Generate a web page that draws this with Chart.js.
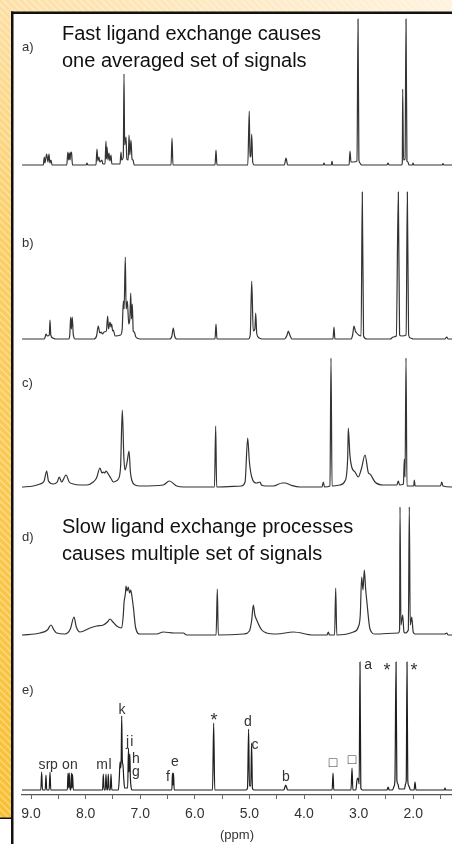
<!DOCTYPE html>
<html>
<head>
<meta charset="utf-8">
<script src="https://cdn.jsdelivr.net/npm/chart.js@4.4.1/dist/chart.umd.min.js"></script>
<style>
  html, body { margin: 0; padding: 0; background: #fff; }
  canvas { display: block; }
</style>
</head>
<body>
<canvas id="nmrChart" width="452" height="844"></canvas>
<script>
// [ppm, intensity]
const specA = [
  [9.165,0],[8.775,0],[8.757,8],[8.745,2],[8.713,11],[8.69,3],[8.671,11],[8.655,2],[8.634,5],[8.615,0],
  [8.345,0],[8.325,13],[8.31,5],[8.298,12],[8.285,5],[8.272,13],[8.258,12],[8.24,0],
  [7.99,0],[7.975,2],[7.96,0],
  [7.81,0],[7.792,16],[7.775,4],[7.755,8],[7.74,3],[7.718,4],[7.70,5],[7.685,1],
  [7.645,1],[7.627,24],[7.618,6],[7.608,18],[7.59,5],[7.572,12],[7.555,4],[7.535,10],[7.52,1],
  [7.37,1],[7.352,13],[7.34,5],[7.31,8],[7.297,91],[7.285,20],[7.26,28],[7.245,6],
  [7.22,5],[7.205,30],[7.19,10],[7.169,25],[7.15,6],[7.132,5],[7.11,0],
  [6.435,0],[6.418,27],[6.40,0],
  [5.63,0],[5.612,15],[5.595,0],
  [5.03,0],[5.003,54],[4.99,8],[4.975,9],[4.958,31],[4.94,3],[4.91,0],
  [4.36,0],[4.33,7],[4.30,0],
  [3.65,0],[3.634,2],[3.62,0],
  [3.50,0],[3.488,4],[3.475,0],
  [3.175,0],[3.158,14],[3.14,3],[3.10,3],[3.03,4],[3.011,146],[2.995,5],[2.975,2],[2.95,0],
  [2.48,0],[2.462,2],[2.44,0],
  [2.21,0],[2.20,3],[2.193,76],[2.178,5],[2.15,6],[2.132,146],[2.115,4],[2.095,3],[2.08,0],
  [2.015,0],[2.004,2],[1.99,0],
  [1.47,0],[1.455,1.5],[1.44,0],[1.29,0]
];
const specB = [
  [9.165,0],[8.76,0],[8.74,2],[8.726,5],[8.70,3],[8.665,4],[8.652,19],[8.638,4],[8.60,1],[8.55,0],
  [8.31,0],[8.29,4],[8.273,22],[8.26,10],[8.245,22],[8.225,4],[8.19,0],
  [7.85,0],[7.80,3],[7.768,13],[7.74,6],[7.718,7],[7.69,5],[7.663,7],[7.62,8],[7.596,23],[7.58,10],
  [7.553,17],[7.535,12],[7.523,15],[7.505,8],[7.493,9],[7.46,3],
  [7.36,4],[7.33,10],[7.309,38],[7.295,30],[7.273,82],[7.258,30],[7.236,38],[7.21,15],[7.19,20],
  [7.174,46],[7.16,20],[7.145,35],[7.128,8],[7.108,7],[7.08,2],[7.0,0],
  [6.46,0],[6.42,3],[6.394,11],[6.37,3],[6.33,0],
  [5.63,0],[5.612,15],[5.595,0],
  [5.02,0],[4.985,4],[4.958,58],[4.93,8],[4.90,10],[4.885,26],[4.865,5],[4.82,1],[4.77,0],
  [4.36,0],[4.31,4],[4.288,8],[4.26,4],[4.22,0],
  [3.47,0],[3.451,12],[3.435,0],
  [3.14,0],[3.11,4],[3.085,13],[3.06,8],[3.035,6],[3.0,4],[2.955,3],[2.933,147],[2.91,3],[2.85,0],
  [2.42,0],[2.365,2],[2.31,3],[2.273,147],[2.25,4],[2.211,3],[2.13,4],[2.108,147],[2.085,4],[2.05,1],[2.0,0],
  [1.42,0],[1.387,2],[1.36,0],[1.29,0]
];
const specC = [
  [9.165,0],[8.958,1],[8.835,3],[8.76,6],[8.713,16],[8.68,6],[8.592,3],[8.52,5],[8.482,10],[8.44,5],
  [8.359,12],[8.30,5],[8.225,3],[8.103,2],[7.98,2],[7.859,5],[7.80,9],[7.737,19],[7.70,14],[7.676,15],
  [7.65,14],[7.627,16],[7.585,13],[7.54,9],[7.493,5],[7.44,6],[7.401,8],[7.36,20],[7.328,77],[7.30,30],
  [7.279,17],[7.24,25],[7.205,36],[7.18,15],[7.156,7],[7.095,2],[7.0,1],
  [6.577,2],[6.467,6],[6.332,1],[6.2,0],
  [5.64,0],[5.618,61],[5.60,0],
  [5.15,1],[5.08,5],[5.032,49],[5.0,25],[4.958,10],[4.867,4],[4.806,5],[4.78,2],[4.70,1],
  [4.562,1],[4.40,4],[4.348,4],[4.25,2],[4.073,0],
  [3.67,0],[3.647,5],[3.625,0],[3.525,1],[3.506,129],[3.487,1],
  [3.341,2],[3.25,6],[3.20,30],[3.189,59],[3.16,32],[3.127,20],[3.066,15],[3.006,10],[2.95,18],
  [2.883,32],[2.82,14],[2.792,13],[2.7,5],[2.548,2],
  [2.30,2],[2.273,6],[2.25,2],[2.18,3],[2.163,28],[2.15,10],[2.132,129],[2.115,1],[1.99,1],[1.98,7],[1.965,1],
  [1.50,1],[1.478,5],[1.455,1],[1.29,0]
];
const specD = [
  [9.165,0],[8.835,2],[8.70,5],[8.634,10],[8.58,5],[8.53,2],[8.378,1],[8.28,6],[8.213,18],[8.17,8],
  [8.103,3],[7.92,7],[7.797,9],[7.676,10],[7.60,13],[7.553,16],[7.50,13],[7.431,9],[7.339,7],[7.31,20],
  [7.297,32],[7.27,42],[7.26,49],[7.24,44],[7.218,48],[7.195,42],[7.174,45],[7.15,38],[7.126,28],[7.083,7],[7.004,1],
  [6.70,1],[6.577,3],[6.38,2],[6.211,2],[6.149,0],
  [5.61,0],[5.588,46],[5.57,0],
  [5.10,1],[5.0,4],[4.958,15],[4.929,30],[4.90,20],[4.867,15],[4.775,5],[4.684,2],[4.50,1],[4.196,3],[3.83,0],
  [3.58,0],[3.555,3],[3.535,0],[3.44,0],[3.42,47],[3.40,0],
  [3.097,3],[3.006,8],[2.97,20],[2.944,58],[2.92,45],[2.896,65],[2.87,45],[2.852,35],[2.792,6],[2.7,1],
  [2.273,2],[2.25,5],[2.242,128],[2.225,10],[2.193,20],[2.17,3],[2.151,2],[2.09,5],[2.072,128],[2.055,10],
  [2.028,18],[2.0,3],[1.967,1],
  [1.42,1],[1.387,2],[1.36,0],[1.29,0]
];
const specE = [
  [9.165,0],[8.82,0],[8.805,18],[8.79,0],[8.74,0],[8.726,15],[8.712,0],[8.668,0],[8.652,18],[8.638,0],
  [8.335,0],[8.322,17],[8.31,2],[8.30,17],[8.285,0],[8.27,0],[8.26,17],[8.25,2],[8.24,16],[8.225,0],
  [7.69,0],[7.676,16],[7.662,0],[7.64,0],[7.627,16],[7.612,0],[7.598,0],[7.585,16],[7.57,0],[7.548,0],[7.535,16],[7.52,0],
  [7.40,0],[7.383,12],[7.37,28],[7.358,22],[7.348,32],[7.339,74],[7.328,30],[7.316,25],[7.30,10],[7.285,2],
  [7.23,2],[7.215,42],[7.205,18],[7.19,36],[7.18,12],[7.165,2],[7.15,0],
  [6.42,0],[6.41,17],[6.40,5],[6.39,17],[6.378,0],
  [5.675,0],[5.655,67],[5.635,0],
  [5.06,0],[5.035,2],[5.015,61],[5.0,4],[4.975,4],[4.96,47],[4.945,2],[4.92,0],
  [4.37,0],[4.335,5],[4.30,0],
  [3.485,0],[3.469,17],[3.455,0],
  [3.14,0],[3.121,22],[3.105,0],
  [3.05,0],[3.03,10],[3.01,12],[2.99,6],[2.975,128],[2.96,2],[2.93,0],
  [2.48,0],[2.46,3],[2.44,0],
  [2.38,0],[2.35,4],[2.335,10],[2.315,128],[2.30,10],[2.28,6],[2.26,1],
  [2.16,1],[2.14,6],[2.128,10],[2.114,128],[2.10,10],[2.08,4],[2.05,0],
  [1.985,0],[1.967,8],[1.95,0],
  [1.43,0],[1.418,2],[1.405,0],[1.29,0]
];

const panelNames = ['a)', 'b)', 'c)', 'd)', 'e)'];
const peakText = ['s','r','p','o','n','m','l','k','j','i','h','g','e','f','*','d','c','b','\u25A1','\u25A1','a','*','*'];
const peakPpm = [8.799,8.689,8.579,8.359,8.213,7.70,7.553,7.334,7.23,7.156,7.077,7.077,6.363,6.491,5.649,5.026,4.898,4.33,3.469,3.121,2.828,2.48,1.985];
const peakLift = [25,25,25,25,25,25,25,80,48,48,31,18,28,13,73,68,45,13,27,30,125,123,123];
const notes = [
  ['Fast ligand exchange causes', 'one averaged set of signals'],
  ['Slow ligand exchange processes', 'causes multiple set of signals']
];

const baselines = [630, 456, 308, 160, 5];
const spectra = [specA, specB, specC, specD, specE];

const slideBg = {
  id: 'slideBg',
  beforeDraw: function(chart) {
    const ctx = chart.ctx;
    ctx.save();
    ctx.fillStyle = '#fff';
    ctx.fillRect(0, 0, 452, 844);
    let g = ctx.createLinearGradient(0, 0, 0, 818);
    g.addColorStop(0, '#fde0a6');
    g.addColorStop(0.3, '#fbcf66');
    g.addColorStop(1, '#f8c034');
    ctx.fillStyle = g;
    ctx.fillRect(0, 0, 13, 818);
    g = ctx.createLinearGradient(0, 0, 452, 0);
    g.addColorStop(0, '#fde0a6');
    g.addColorStop(1, '#fef3de');
    ctx.fillStyle = g;
    ctx.fillRect(13, 0, 439, 13);
    ctx.beginPath();
    ctx.rect(0, 0, 452, 13);
    ctx.rect(0, 13, 13, 805);
    ctx.clip();
    ctx.strokeStyle = 'rgba(255,255,255,0.35)';
    ctx.lineWidth = 1.5;
    for (let i = -900; i < 1400; i += 7) {
      ctx.beginPath();
      ctx.moveTo(i, 0);
      ctx.lineTo(i + 844, 844);
      ctx.stroke();
    }
    ctx.restore();
    ctx.fillStyle = '#111';
    ctx.fillRect(11, 11.5, 441, 2.5);
    ctx.fillRect(11, 11.5, 2.5, 833);
    ctx.fillRect(0, 817.5, 12, 1.5);
  },
  afterDraw: function(chart) {
    const ctx = chart.ctx;
    const x = chart.scales.x, y = chart.scales.y;
    ctx.save();
    ctx.fillStyle = '#333';
    ctx.font = '13px "Liberation Sans", Arial, sans-serif';
    ctx.textBaseline = 'middle';
    ctx.textAlign = 'left';
    const panelY = [47, 243, 383, 537, 690];
    panelNames.forEach(function(t, i) { ctx.fillText(t, 22, panelY[i]); });

    ctx.textAlign = 'center';
    peakText.forEach(function(t, i) {
      const px = x.getPixelForValue(peakPpm[i]);
      const py = y.getPixelForValue(baselines[4] + peakLift[i]);
      if (t === '*') {
        ctx.font = '18px "Liberation Sans", Arial, sans-serif';
        ctx.fillText(t, px, py + 4);
      } else {
        ctx.font = '14px "Liberation Sans", Arial, sans-serif';
        ctx.fillText(t, px, py);
      }
    });

    ctx.fillStyle = '#111';
    ctx.font = '20px "Liberation Sans", Arial, sans-serif';
    ctx.textAlign = 'left';
    ctx.textBaseline = 'alphabetic';
    ctx.fillText(notes[0][0], 62, 39.5);
    ctx.fillText(notes[0][1], 62, 66.5);
    ctx.fillText(notes[1][0], 62, 533);
    ctx.fillText(notes[1][1], 62, 559.5);
    ctx.restore();
  }
};

new Chart(document.getElementById('nmrChart'), {
  type: 'line',
  data: {
    datasets: spectra.map(function(s, i) {
      return {
        data: s.map(function(p) { return { x: p[0], y: p[1] + baselines[i] }; }),
        borderColor: i === 4 ? '#1e1e1e' : '#333',
        borderWidth: 1.2,
        pointRadius: 0,
        fill: false,
        cubicInterpolationMode: 'monotone',
        clip: false
      };
    })
  },
  options: {
    responsive: false,
    animation: false,
    layout: { padding: { top: 13, left: 22, right: 0, bottom: 0 } },
    plugins: { legend: { display: false }, tooltip: { enabled: false } },
    scales: {
      x: {
        type: 'linear',
        reverse: true,
        min: 1.29,
        max: 9.165,
        afterFit: function(axis) { axis.height = 49; },
        border: { display: true, color: '#555', width: 1.2 },
        grid: { drawOnChartArea: false, drawTicks: true, tickLength: 4, color: '#666' },
        ticks: {
          stepSize: 0.5,
          includeBounds: false,
          autoSkip: false,
          maxRotation: 0,
          padding: 7,
          color: '#333',
          font: { family: '"Liberation Sans", Arial, sans-serif', size: 14 },
          callback: function(v) { return Math.abs(v - Math.round(v)) < 1e-6 ? v.toFixed(1) : ''; }
        },
        title: {
          display: true,
          text: '(ppm)',
          color: '#333',
          padding: { top: 0, bottom: 1 },
          font: { family: '"Liberation Sans", Arial, sans-serif', size: 13 }
        }
      },
      y: { display: false, min: 0, max: 782 }
    }
  },
  plugins: [slideBg]
});
</script>
</body>
</html>
